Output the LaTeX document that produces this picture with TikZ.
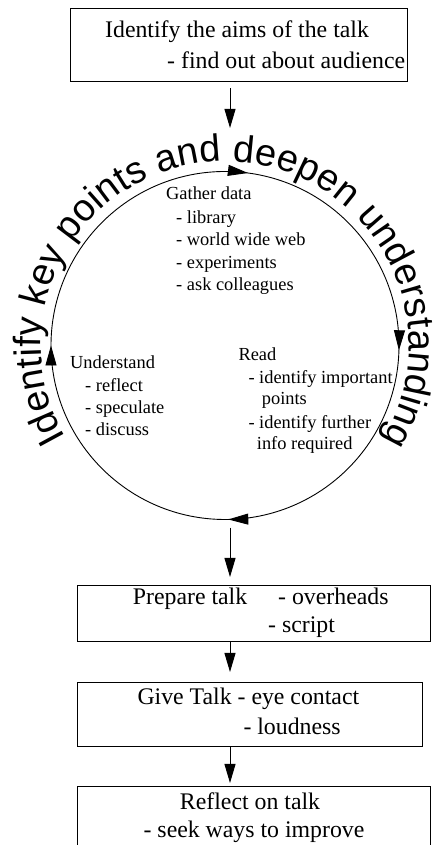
\documentclass[tikz,border=0pt]{standalone}
\usepackage{fontspec}
\setmainfont{Liberation Serif}
\setsansfont{Liberation Sans}
\usetikzlibrary{arrows.meta,decorations.text,decorations.markings,calc}
\begin{document}
\begin{tikzpicture}[x=1pt,y=1pt,
  box/.style={draw, line width=1pt, rectangle, inner sep=0pt},
  txt/.style={anchor=base west, inner sep=0pt, font=\fontsize{23.8pt}{28pt}\selectfont},
  ctxt/.style={anchor=base west, inner sep=0pt, font=\fontsize{18.4pt}{22pt}\selectfont},
  conn/.style={line width=1pt, -{Triangle[length=19pt,width=11pt]}},
  ctip/.tip={Triangle[length=20pt,width=11pt]},
]
\useasboundingbox (0,0) rectangle (438,845);
\clip (0,0) rectangle (438,845);
\fill[white] (0,0) rectangle (438,845);

% top box
\node[box, minimum width=337pt, minimum height=73pt] (aims) at (238.5,799.5) {};
\node[txt] (aims1) at (105,807.7) {Identify the aims of the talk};
\node[txt] (aims2) at (167,776.7) {- find out about audience};

% cycle
\node[circle, minimum size=348pt, inner sep=0pt] (cyc) at (225,499.5) {};
\draw[line width=0.9pt, postaction={decorate},
  decoration={markings,
    mark=at position 0.0044 with {\arrow{ctip}},
    mark=at position 0.247 with {\arrow{ctip}},
    mark=at position 0.5 with {\arrow{ctip}},
    mark=at position 0.771 with {\arrow{ctip}}}]
  (cyc.center) ++(0:174pt) arc[start angle=0, end angle=-360, radius=174pt];

\path[decorate, decoration={text along path,
   text={|\sffamily\fontsize{38pt}{38pt}\selectfont|Identify key points and deepen understanding},
   text align={fit to path}}]
  (cyc.center) ++(210:184pt) arc[start angle=210, end angle=-31, radius=184pt];

\node[ctxt] (g0) at (166,645) {Gather data};
\node[ctxt] (g1) at (176,621.7) {- library};
\node[ctxt] (g2) at (176,599.3) {- world wide web};
\node[ctxt] (g3) at (176,576.7) {- experiments};
\node[ctxt] (g4) at (176,554.3) {- ask colleagues};

\node[ctxt] (u0) at (70,476.7) {Understand};
\node[ctxt] (u1) at (85,453.3) {- reflect};
\node[ctxt] (u2) at (85,431.7) {- speculate};
\node[ctxt] (u3) at (85,409) {- discuss};

\node[ctxt] (r0) at (238.3,484.3) {Read};
\node[ctxt] (r1) at (248.3,461.7) {- identify important};
\node[ctxt] (r2) at (261.7,440) {points};
\node[ctxt] (r3) at (248.3,416.7) {- identify further};
\node[ctxt] (r4) at (256.7,395) {info required};

% lower boxes
\node[box, minimum width=352.7pt, minimum height=55.7pt] (prep) at (254.3,231.2) {};
\node[txt] (p1) at (132.7,240) {Prepare talk};
\node[txt] (p2) at (278,240) {- overheads};
\node[txt] (p3) at (268,212) {- script};

\node[box, minimum width=344.7pt, minimum height=63.7pt] (give) at (250.3,130.8) {};
\node[txt] (gv1) at (137.3,140) {Give Talk - eye contact};
\node[txt] (gv2) at (243.3,110) {- loudness};

\node[box, minimum width=352.7pt, minimum height=78.3pt] (refl) at (254.3,19.15) {};
\node[txt, anchor=base] (rf1) at (250,35) {Reflect on talk};
\node[txt, anchor=base] (rf2) at (254,7) {- seek ways to improve};

% connectors
\coordinate (e1) at (230,717);
\coordinate (e2) at (230,268);
\coordinate (e3) at (230,173);
\coordinate (e4) at (230,62);
\draw[conn] ([yshift=-6pt]aims.south -| e1) -- (e1);
\draw[conn] ([yshift=-8pt]cyc.south -| e2) -- (e2);
\draw[conn] (prep.south -| e3) -- (e3);
\draw[conn] (give.south -| e4) -- (e4);
\end{tikzpicture}
\end{document}
